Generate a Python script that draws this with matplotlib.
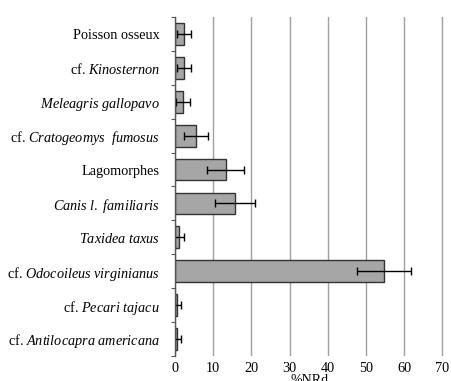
import numpy as np
import matplotlib
matplotlib.use('Agg')
import matplotlib.pyplot as plt
from matplotlib.ticker import FixedLocator

plt.rcParams['font.family'] = 'Liberation Serif'
plt.rcParams['mathtext.fontset'] = 'custom'
plt.rcParams['mathtext.rm'] = 'Liberation Serif'
plt.rcParams['mathtext.it'] = 'Liberation Serif:italic'

taxa = ['Poisson osseux',
        r'cf. $\mathit{Kinosternon}$',
        r'$\mathit{Meleagris\ gallopavo}$',
        r'cf. $\mathit{Cratogeomys\ \ fumosus}$',
        'Lagomorphes',
        r'$\mathit{Canis\ l.\ familiaris}$',
        r'$\mathit{Taxidea\ taxus}$',
        r'cf. $\mathit{Odocoileus\ virginianus}$',
        r'cf. $\mathit{Pecari\ tajacu}$',
        r'cf. $\mathit{Antilocapra\ americana}$']
nrd = [2.3, 2.3, 2.1, 5.5, 13.3, 15.8, 1.0, 54.7, 0.5, 0.5]
err = [1.9, 1.9, 1.9, 3.1, 4.8, 5.2, 1.4, 7.0, 1.1, 1.1]
xticks = [0, 10, 20, 30, 40, 50, 60, 70]

fig = plt.figure(figsize=(4.51, 3.81), dpi=100)
ax = fig.add_axes([0.388, 0.066, 0.597, 0.889])

y = np.arange(len(taxa))
ax.barh(y, nrd, height=0.64, color='#a6a6a6', edgecolor='#333333', linewidth=1, zorder=3)
ax.errorbar(nrd, y, xerr=err, fmt='none', ecolor='black', elinewidth=1,
            capsize=3, capthick=1, zorder=4)

ax.set_ylim(len(taxa) - 0.5, -0.5)
ax.set_xlim(0, 70.5)
ax.set_yticks(y)
ax.set_yticklabels(taxa, fontsize=10.3)
ax.yaxis.set_minor_locator(FixedLocator(np.arange(-0.5, len(taxa), 1)))
ax.tick_params(axis='y', which='major', length=0, pad=11)
ax.tick_params(axis='y', which='minor', length=3, width=0.8, color='#555555')

ax.set_xticks(xticks)
ax.tick_params(axis='x', length=0, labelsize=10.3, pad=4.5)
ax.xaxis.grid(True, color='#a0a0a0', linewidth=1, zorder=0)
ax.set_axisbelow(True)

for s in ['top', 'right', 'bottom']:
    ax.spines[s].set_visible(False)
ax.spines['left'].set_color('#555555')
ax.spines['left'].set_linewidth(1)
ax.spines['left'].set_zorder(5)

ax.set_xlabel('%NRd', fontsize=10, labelpad=-1)

fig.savefig('out.png', dpi=100)
